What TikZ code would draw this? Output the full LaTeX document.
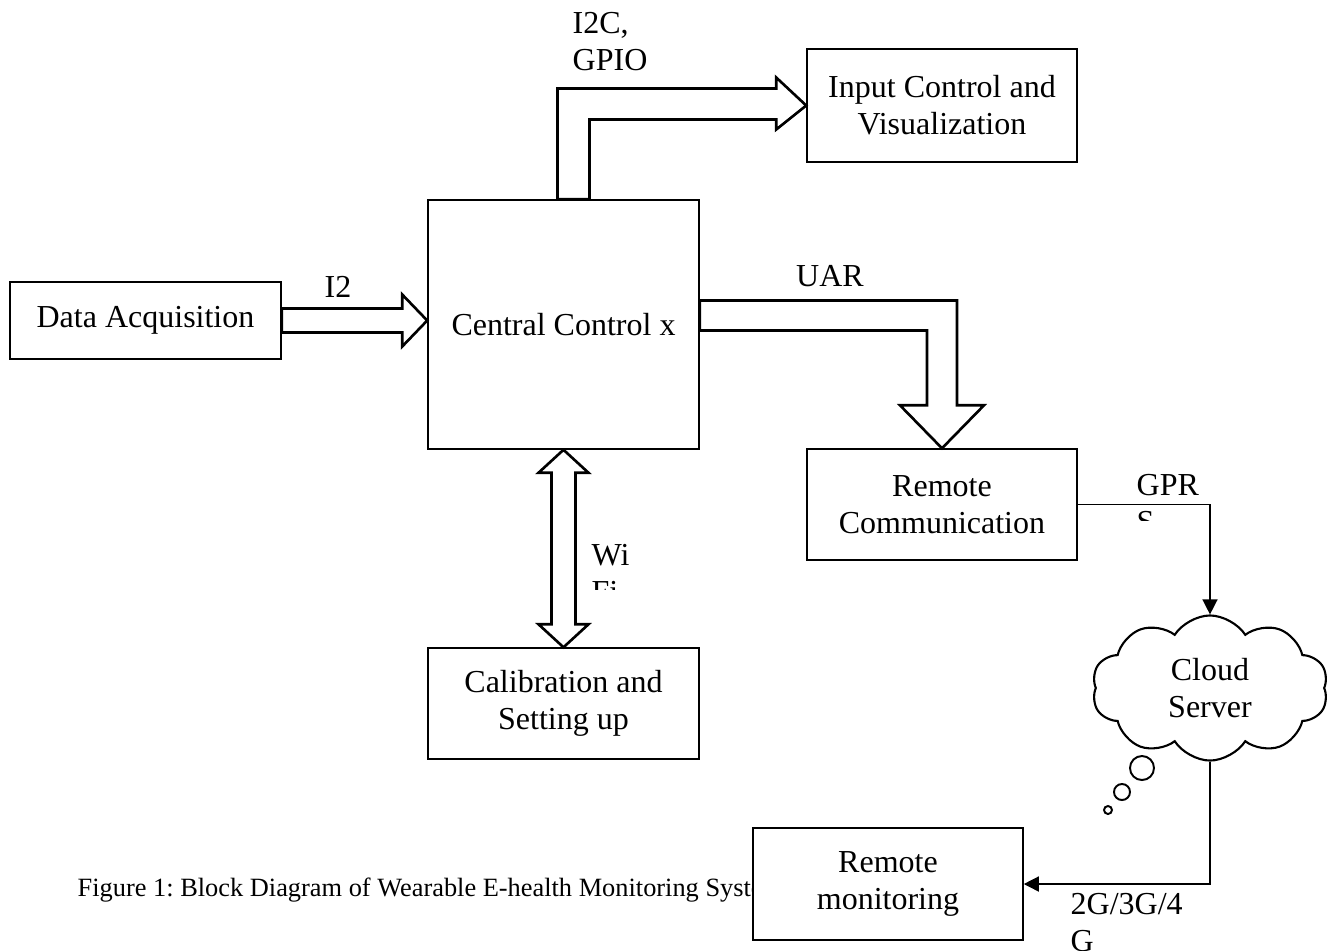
\documentclass[tikz,border=0pt]{standalone}
\usepackage{fontspec}
\setmainfont{Liberation Serif}
\usetikzlibrary{arrows.meta}
\usetikzlibrary{shapes.symbols}
\usetikzlibrary{calc}
\frenchspacing

\begin{document}
\begin{tikzpicture}[x = 0.01cm, y = -0.01cm, font = \fontsize{9.1}{10.5}\selectfont]
	\tikzstyle{boxStyle} = [draw, line width = 0.4pt, fill = white, align = center, inner sep = 0pt, minimum width = 2.71cm]
	\tikzstyle{blockArrowStyle} = [draw, line width = 0.75pt, fill = white, line join = miter]
	\tikzstyle{wireStyle} = [draw, line width = 0.4pt, -{Triangle[length = 4.3pt, width = 4.3pt]}]
	\tikzstyle{labelStyle} = [inner sep = 0pt, align = left]
	\tikzstyle{bubbleStyle} = [shape = circle, draw, line width = 0.55pt, inner sep = 0pt]
	\useasboundingbox (0,0) rectangle (1329,950);
	% caption sits under the remote monitoring box
	\node[labelStyle, anchor = west, font = \fontsize{7.5}{9}\selectfont] (cap) at (77,890) {Figure 1: Block Diagram of Wearable E-health Monitoring System};
	\node[boxStyle, minimum height = 0.77cm] (da) at (145.5,320.5) {Data Acquisition};
	\node[boxStyle, minimum height = 2.49cm] (ctrl) at (563.5,324.5) {Central Control x};
	\node[boxStyle, minimum width = 2.70cm, minimum height = 1.13cm] (inp) at (942,105.5) {Input Control and\\Visualization};
	\node[boxStyle, minimum width = 2.70cm, minimum height = 1.11cm] (rcom) at (942,504.5) {Remote\\Communication};
	\node[boxStyle, minimum height = 1.11cm] (cal) at (563.5,703.5) {Calibration and\\Setting up};
	\node[boxStyle, minimum width = 2.70cm, minimum height = 1.12cm] (rmon) at (888,884) {Remote\\monitoring};
	\node[shape = cloud, draw, line width = 0.6pt, cloud puffs = 10, cloud puff arc = 115, aspect = 1.6, minimum width = 2.36cm, minimum height = 1.45cm, inner sep = 0pt, align = center] (cloud) at (1210,688) {Cloud\\Server};
	\node[bubbleStyle, minimum size = 0.24cm] (b1) at (1142,768) {};
	\node[bubbleStyle, minimum size = 0.16cm] (b2) at (1122,792) {};
	\node[bubbleStyle, minimum size = 0.08cm] (b3) at (1108,810) {};
	% block arrows
	\coordinate (t1) at (ctrl.west |- da.east);
	\draw[blockArrowStyle] ($(da.east)+(0,-12)$) -- ($(t1)+(-25,-12)$) -- ($(t1)+(-25,-26)$) -- (t1) -- ($(t1)+(-25,26)$) -- ($(t1)+(-25,12)$) -- ($(da.east)+(0,12)$) -- cycle;
	\coordinate (c2) at ($(ctrl.north)+(10,0)$);
	\coordinate (t2) at (inp.west);
	\coordinate (k2) at (c2 |- t2);
	\draw[blockArrowStyle] ($(c2)+(-16,0)$) -- ($(k2)+(-16,-17)$) -- ($(t2)+(-30,-17)$) -- ($(t2)+(-30,-28)$) -- (t2) -- ($(t2)+(-30,24)$) -- ($(t2)+(-30,14)$) -- ($(k2)+(16,14)$) -- ($(c2)+(16,0)$) -- cycle;
	\coordinate (c3) at ($(ctrl.east)+(0,-9)$);
	\coordinate (t3) at (rcom.north);
	\coordinate (k3) at (t3 |- c3);
	\draw[blockArrowStyle] ($(c3)+(0,-15)$) -- ($(k3)+(15,-15)$) -- ($(t3)+(15,-43)$) -- ($(t3)+(42,-43)$) -- (t3) -- ($(t3)+(-42,-43)$) -- ($(t3)+(-15,-43)$) -- ($(k3)+(-15,15)$) -- ($(c3)+(0,15)$) -- cycle;
	\coordinate (t4a) at (ctrl.south);
	\coordinate (t4b) at (cal.north);
	\draw[blockArrowStyle] (t4a) -- ($(t4a)+(25,23)$) -- ($(t4a)+(12,23)$) -- ($(t4b)+(12,-23)$) -- ($(t4b)+(25,-23)$) -- (t4b) -- ($(t4b)+(-25,-23)$) -- ($(t4b)+(-12,-23)$) -- ($(t4a)+(-12,23)$) -- ($(t4a)+(-25,23)$) -- cycle;
	% thin links
	\draw[wireStyle] (rcom.east) -| (cloud.north);
	\draw[wireStyle] (cloud.south) |- (rmon.east);
	% labels
	\node[labelStyle, anchor = north west] (lI2C) at (572,12) {I2C,\\GPIO};
	\node[labelStyle, anchor = base] (lI2) at (338,297) {I2};
	\node[labelStyle, anchor = base] (lUAR) at (830,286) {UAR};
	\begin{scope}
		\clip (1120,470) rectangle (1220,520);
		\node[labelStyle, anchor = north west] (lGPRS) at (1136,474) {GPR\\S};
	\end{scope}
	\begin{scope}
		\clip (585,530) rectangle (660,589);
		\node[labelStyle, anchor = north west] (lWiFi) at (591,544) {Wi\\Fi};
	\end{scope}
	\begin{scope}
		\clip (1060,880) rectangle (1220,950);
		\node[labelStyle, anchor = north west] (l2G) at (1070,893) {2G/3G/4\\G};
	\end{scope}
\end{tikzpicture}
\end{document}
